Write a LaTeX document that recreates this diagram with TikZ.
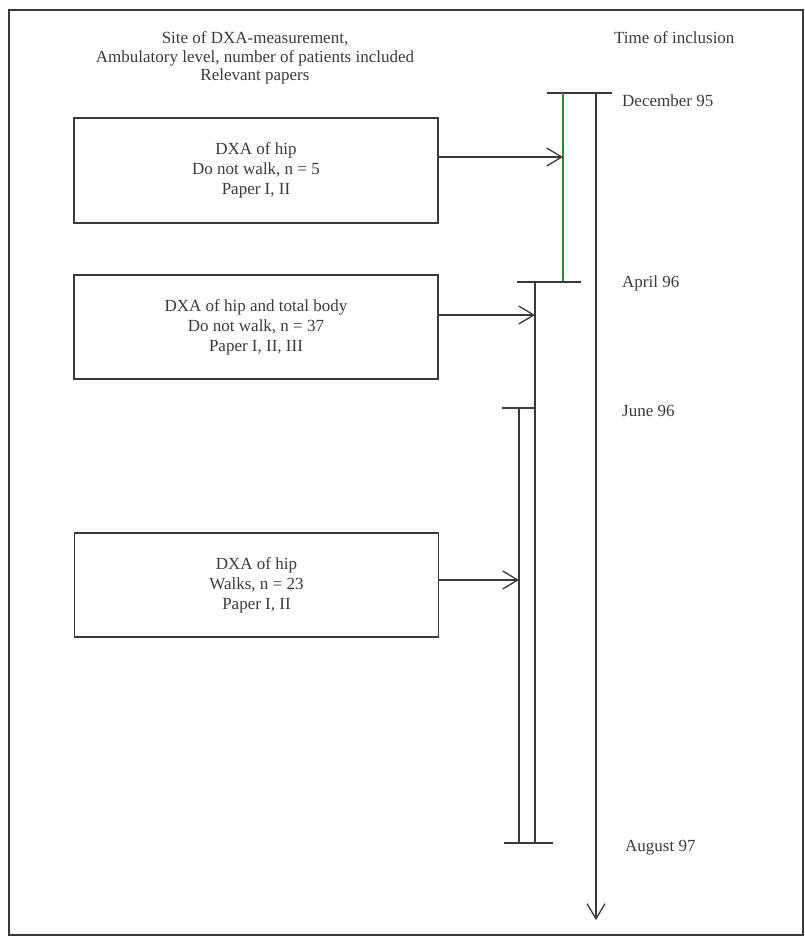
\documentclass[tikz,border=0pt]{standalone}
\usepackage{fontspec}
\setmainfont{Liberation Serif}
\usetikzlibrary{arrows.meta}
\definecolor{ink}{RGB}{55,60,58}
\definecolor{grn}{RGB}{40,140,45}
\tikzset{
  box/.style={draw=ink, line width=1.1pt, minimum width=364pt, minimum height=104pt, align=center, inner sep=0pt, font=\fontsize{17}{20}\selectfont, text=ink},
  hdr/.style={align=center, inner sep=0pt, font=\fontsize{17}{18.5}\selectfont, text=ink},
  datelbl/.style={anchor=west, inner sep=0pt, font=\fontsize{17}{20}\selectfont, text=ink},
  ln/.style={draw=ink, line width=1.3pt},
  arr/.style={draw=ink, line width=1.3pt, -{Straight Barb[length=15pt, width=18pt, line width=1.3pt]}}
}
\begin{document}
\begin{tikzpicture}[x=1pt,y=-1pt]
\useasboundingbox (0,0) rectangle (805,943);
\draw[ink, line width=1.1pt] (9,10) rectangle (803,935);

% headers
\node[hdr] (h1) at (255,58) {Site of DXA-measurement,\\Ambulatory level, number of patients included\\Relevant papers};
\node[datelbl] (h2) at (614,38) {Time of inclusion};

% boxes
\node[box, minimum height=105pt] (b1) at (256,170.5) {DXA of hip\\Do not walk, n = 5\\Paper I, II};
\node[box] (b2) at (256,327) {DXA of hip and total body\\Do not walk, n = 37\\Paper I, II, III};
\node[box] (b3) at (256.5,585) {DXA of hip\\Walks, n = 23\\Paper I, II};

% timeline coordinates
\coordinate (tl) at (547,93);
\coordinate (tr) at (612,93);
\coordinate (gtop) at (563,93);
\coordinate (gbot) at (563,282);
\coordinate (mtop) at (596,93);
\coordinate (mbot) at (596,920);
\coordinate (al) at (517,282);
\coordinate (ar) at (581,282);
\coordinate (atop) at (535,282);
\coordinate (abot) at (535,843);
\coordinate (jl) at (502,408);
\coordinate (jr) at (535,408);
\coordinate (jtop) at (519,408);
\coordinate (jbot) at (519,843);
\coordinate (ul) at (504,843);
\coordinate (ur) at (553,843);

% bars and lines
\draw[ln] (tl) -- (tr);
\draw[draw=grn, line width=1.3pt] (gtop) -- (gbot);
\draw[arr] (mtop) -- (mbot);
\draw[ln] (al) -- (ar);
\draw[ln] (atop) -- (abot);
\draw[ln] (jl) -- (jr);
\draw[ln] (jtop) -- (jbot);
\draw[ln] (ul) -- (ur);

% arrows
\coordinate (g1) at (563,157);
\coordinate (g2) at (535,315);
\coordinate (g3) at (519,580);
\draw[arr] (b1.east |- g1) -- (g1);
\draw[arr] (b2.east |- g2) -- (g2);
\draw[arr] (b3.east |- g3) -- (g3);

% dates
\node[datelbl] (d1) at (622,101) {December 95};
\node[datelbl] (d2) at (622,283) {April 96};
\node[datelbl] (d3) at (622,411) {June 96};
\node[datelbl] (d4) at (625,848) {August 97};
\end{tikzpicture}
\end{document}
